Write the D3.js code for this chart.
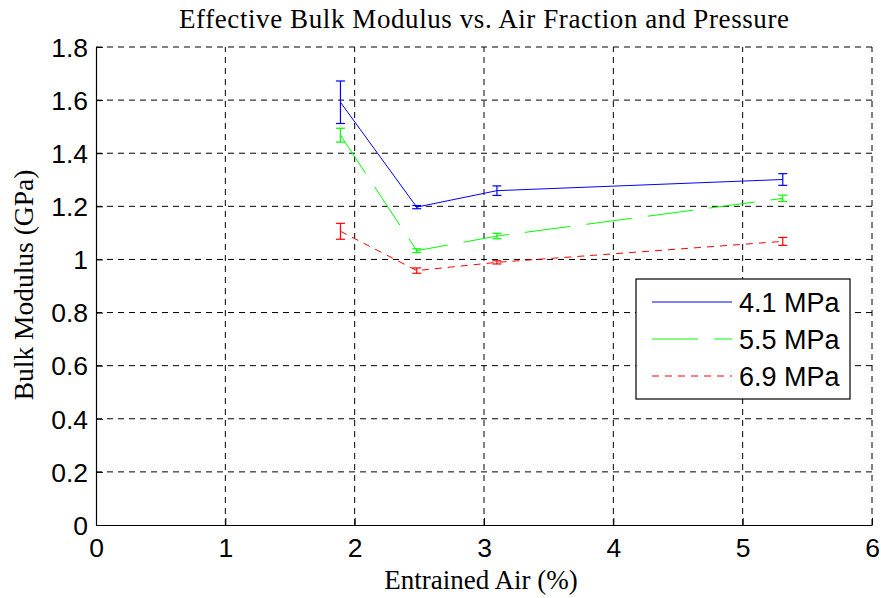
<!DOCTYPE html>
<html>
<head>
	<meta charset="utf-8">
	<title>Effective Bulk Modulus</title>
	<script src="https://d3js.org/d3.v7.min.js"></script>
	<style>
		body { margin: 0; background: #fff; }
	</style>
</head>
<body>
	<script>
			// entrained air (%) for each measurement
			var airFraction = [1.89, 2.48, 3.10, 5.31];

			var seriesNames = ["4.1 MPa", "5.5 MPa", "6.9 MPa"];
			var bulk41 = [1.592, 1.197, 1.259, 1.301];
			var bulk55 = [1.468, 1.033, 1.088, 1.230];
			var bulk69 = [1.106, 0.958, 0.989, 1.068];
			var err41 = [0.080, 0.006, 0.018, 0.022];
			var err55 = [0.026, 0.007, 0.010, 0.012];
			var err69 = [0.030, 0.010, 0.006, 0.015];

			var xTicks = [0, 1, 2, 3, 4, 5, 6];
			var yTicks = [0, 0.2, 0.4, 0.6, 0.8, 1, 1.2, 1.4, 1.6, 1.8];

			var colors = ["#0000ff", "#00ff00", "#ff0000"];
			var dashes = [null, "46,16", "7,6"];

			var sans = "Liberation Sans, Arial, sans-serif";
			var serif = "Liberation Serif, Times New Roman, serif";

			var W = 881, H = 598;
			var svg = d3.select("body").append("svg")
							.attr("width", W)
							.attr("height", H);

			var x = d3.scaleLinear().domain([0, 6]).range([96, 872]);
			var y = d3.scaleLinear().domain([0, 1.8]).range([525, 47]);

			// grid
			var grid = svg.append("g");
			grid.selectAll(".gx")
				.data(xTicks.slice(1))
				.enter().append("line")
				.attr("x1", function (d) { return x(d); })
				.attr("x2", function (d) { return x(d); })
				.attr("y1", y(0)).attr("y2", y(1.8))
				.attr("stroke", "#000").attr("stroke-width", 1)
				.attr("stroke-dasharray", "6,5");
			grid.selectAll(".gy")
				.data(yTicks.slice(1))
				.enter().append("line")
				.attr("x1", x(0)).attr("x2", x(6))
				.attr("y1", function (d) { return y(d); })
				.attr("y2", function (d) { return y(d); })
				.attr("stroke", "#000").attr("stroke-width", 1)
				.attr("stroke-dasharray", "6,5");

			// axes, ticks point inward
			var xAxis = svg.append("g")
				.attr("transform", "translate(0," + y(0) + ")")
				.call(d3.axisBottom(x).tickValues(xTicks).tickSizeInner(-7).tickSizeOuter(0)
					.tickFormat(d3.format("d")));
			var yAxis = svg.append("g")
				.attr("transform", "translate(" + x(0) + ",0)")
				.call(d3.axisLeft(y).tickValues(yTicks).tickSizeInner(-7).tickSizeOuter(0)
					.tickFormat(function (d) { return d3.format("")(+d.toFixed(1)); }));

			[xAxis, yAxis].forEach(function (a) {
				a.select(".domain").attr("stroke", "#000").attr("stroke-width", 1.2);
				a.selectAll(".tick line").attr("stroke", "#000");
				a.selectAll("text")
					.attr("fill", "#000")
					.attr("font-family", sans)
					.attr("font-size", 26.5);
			});
			xAxis.selectAll("text").attr("y", 13).attr("dy", "0.71em");
			yAxis.selectAll("text").attr("x", -8).attr("dy", "0.35em");

			// series
			var allSeries = [
				{ name: seriesNames[0], v: bulk41, e: err41 },
				{ name: seriesNames[1], v: bulk55, e: err55 },
				{ name: seriesNames[2], v: bulk69, e: err69 }
			];

			var line = d3.line()
						.x(function (d) { return x(d[0]); })
						.y(function (d) { return y(d[1]); });

			allSeries.forEach(function (s, i) {
				var pts = airFraction.map(function (a, j) { return [a, s.v[j]]; });
				var g = svg.append("g");
				g.append("path")
					.attr("d", line(pts))
					.attr("fill", "none")
					.attr("stroke", colors[i])
					.attr("stroke-width", 1)
					.attr("stroke-dasharray", dashes[i]);
				var eb = g.selectAll(".eb")
							.data(airFraction.map(function (a, j) { return { a: a, v: s.v[j], e: s.e[j] }; }))
							.enter().append("g");
				eb.append("line")
					.attr("x1", function (d) { return x(d.a); })
					.attr("x2", function (d) { return x(d.a); })
					.attr("y1", function (d) { return y(d.v - d.e); })
					.attr("y2", function (d) { return y(d.v + d.e); })
					.attr("stroke", colors[i]).attr("stroke-width", 1.2);
				[-1, 1].forEach(function (sgn) {
					eb.append("line")
						.attr("x1", function (d) { return x(d.a) - 4.5; })
						.attr("x2", function (d) { return x(d.a) + 4.5; })
						.attr("y1", function (d) { return y(d.v + sgn * d.e); })
						.attr("y2", function (d) { return y(d.v + sgn * d.e); })
						.attr("stroke", colors[i]).attr("stroke-width", 1.2);
				});
			});

			// legend
			var leg = svg.append("g").attr("transform", "translate(636,279)");
			leg.append("rect")
				.attr("width", 214).attr("height", 120)
				.attr("fill", "#fff").attr("stroke", "#000").attr("stroke-width", 1.2);
			allSeries.forEach(function (s, i) {
				var ly = 23 + i * 37;
				leg.append("line")
					.attr("x1", 16).attr("x2", 96)
					.attr("y1", ly).attr("y2", ly)
					.attr("stroke", colors[i]).attr("stroke-width", 1)
					.attr("stroke-dasharray", dashes[i]);
				leg.append("text")
					.attr("x", 103).attr("y", ly)
					.attr("dy", "0.36em")
					.attr("font-family", sans)
					.attr("font-size", 27)
					.text(s.name);
			});

			// titles
			svg.append("text")
				.attr("x", 484).attr("y", 28)
				.attr("text-anchor", "middle")
				.attr("font-family", serif)
				.attr("font-size", 27)
				.attr("textLength", 610)
				.attr("lengthAdjust", "spacing")
				.text("Effective Bulk Modulus vs. Air Fraction and Pressure");
			svg.append("text")
				.attr("x", 481).attr("y", 589)
				.attr("text-anchor", "middle")
				.attr("font-family", serif)
				.attr("font-size", 27)
				.text("Entrained Air (%)");
			svg.append("text")
				.attr("transform", "translate(33,285) rotate(-90)")
				.attr("text-anchor", "middle")
				.attr("font-family", serif)
				.attr("font-size", 27.5)
				.text("Bulk Modulus (GPa)");
	</script>
</body>
</html>
